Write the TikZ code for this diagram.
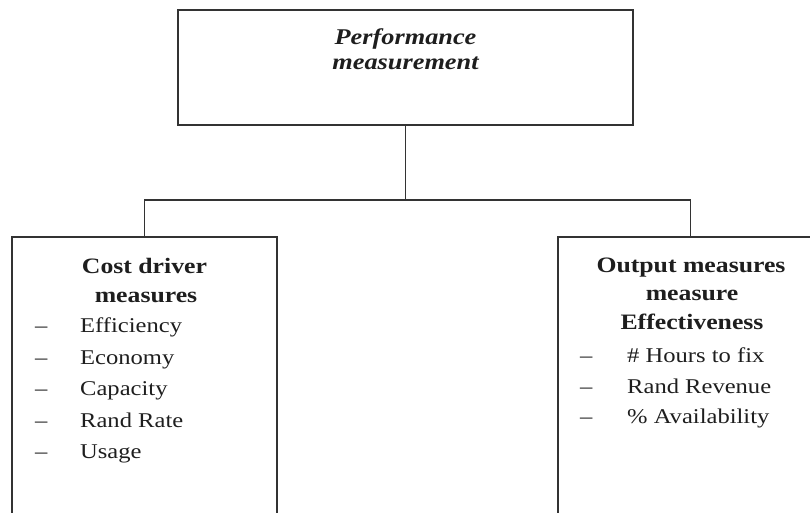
\documentclass[tikz,border=0pt]{standalone}
\usepackage{fontspec}
\setmainfont[FakeStretch=1.17]{Liberation Serif}
\definecolor{ink}{HTML}{333333}
\definecolor{txt}{HTML}{1E1E1E}
\begin{document}
\begin{tikzpicture}[x=1pt,y=-1pt,
  box/.style={draw=ink, line width=1.7pt, rectangle, inner sep=0pt},
  conn/.style={draw=ink, line width=1.6pt},
  title/.style={anchor=base, inner sep=0pt, text=txt,
    font=\fontsize{22.5}{26}\selectfont\bfseries\itshape},
  head/.style={anchor=base, inner sep=0pt, text=txt,
    font=\fontsize{22}{26}\selectfont\bfseries},
  item/.style={anchor=base west, inner sep=0pt, text=txt,
    font=\fontsize{21}{25}\selectfont},
  bulletmark/.style={anchor=base west, inner sep=0pt, text=txt,
    font=\fontsize{21}{25}\selectfont}
]
\useasboundingbox (0,0) rectangle (810,513);
\clip (0,0) rectangle (810,513);

% boxes
\node[box, minimum width=455pt, minimum height=115pt] (top) at (405.5,67.5) {};
\node[box, minimum width=265pt, minimum height=290pt] (left) at (144.5,382) {};
\node[box, minimum width=265pt, minimum height=290pt] (right) at (690.5,382) {};

% tree connector
\coordinate (split) at (405.5,200);
\draw[conn] (top.south) -- (split);
\draw[conn] (left.north) |- (split) -| (right.north);

% top title
\node[title] (t1) at (405.5,45) {Performance};
\node[title] (t2) at (405.5,70) {measurement};

% left box
\node[head] (l1) at (144.5,273) {Cost driver};
\node[head] (l2) at (146,302) {measures};
\foreach \y/\txt [count=\i] in {332/Efficiency,364/Economy,395/Capacity,427/Rand Rate,458/Usage}{
  \node[bulletmark] (ld\i) at (35,\y) {--};
  \node[item] (li\i) at (80,\y) {\txt};
}

% right box
\node[head] (r1) at (691,272) {Output measures};
\node[head] (r2) at (692,300) {measure};
\node[head] (r3) at (692,329) {Effectiveness};
\foreach \y/\txt [count=\i] in {362/\# Hours to fix,393/Rand Revenue,423/\% Availability}{
  \node[bulletmark] (rd\i) at (580,\y) {--};
  \node[item] (ri\i) at (627,\y) {\txt};
}
\end{tikzpicture}
\end{document}
